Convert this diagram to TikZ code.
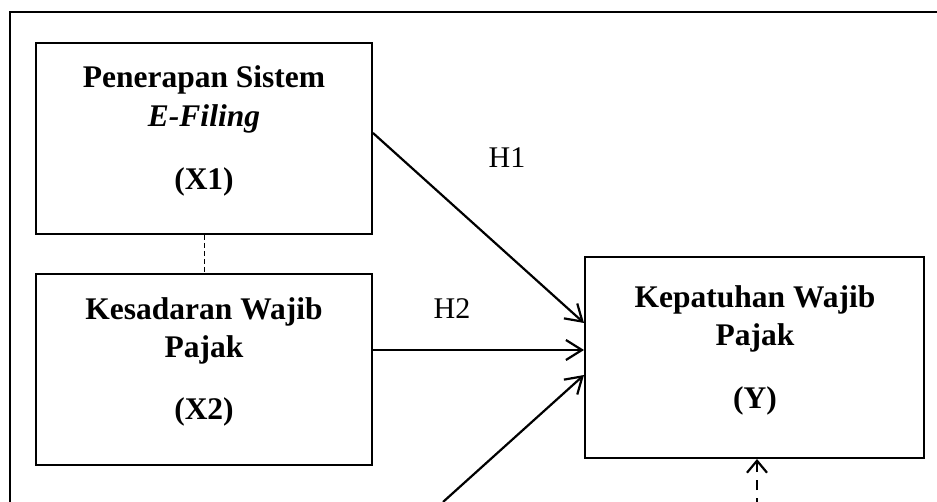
\documentclass[tikz,border=0pt]{standalone}
\usepackage{fontspec}
\setmainfont{Liberation Serif}
\usetikzlibrary{arrows.meta}
\begin{document}
\begin{tikzpicture}[x=1pt,y=-1pt,
  box/.style={draw,line width=2pt,inner sep=0pt,minimum width=336pt,minimum height=191pt},
  ybox/.style={draw,line width=2pt,inner sep=0pt,minimum width=339pt,minimum height=201pt},
  lbl/.style={anchor=base,inner sep=0pt,font=\fontsize{31.5}{36}\selectfont\bfseries},
  hl/.style={anchor=base,inner sep=0pt,font=\fontsize{30}{34}\selectfont},
  arr/.style={line width=2.2pt,-{Straight Barb[length=16pt,width=20pt,line width=2.2pt]}},
  frame/.style={line width=2.6pt,miter limit=10}]
\useasboundingbox (0,0) rectangle (937,502);
% outer frame
\coordinate (fb) at (10,502);
\coordinate (ftl) at (10,12);
\coordinate (fr) at (940,12);
\draw[frame] (fb) -- (ftl) -- (fr);
% boxes
\node[box] (x1) at (204,138.5) {};
\node[box] (x2) at (204,369.5) {};
\node[ybox] (y) at (754.5,357.5) {};
% texts
\node[lbl] (t11) at (204,88) {Penerapan Sistem};
\node[lbl] (t12) at (204,127) {\itshape E-Filing};
\node[lbl] (t13) at (204,190) {(X1)};
\node[lbl] (t21) at (204,320) {Kesadaran Wajib};
\node[lbl] (t22) at (204,358) {Pajak};
\node[lbl] (t23) at (204,420) {(X2)};
\node[lbl] (t31) at (755,308) {Kepatuhan Wajib};
\node[lbl] (t32) at (755,346) {Pajak};
\node[lbl] (t33) at (755,408) {(Y)};
\node[hl] (h1) at (507,168) {H1};
\node[hl] (h2) at (452,319) {H2};
% connectors
\draw[line width=0.8pt,dash pattern=on 5pt off 3pt] (x1.south) -- (x2.north);
\draw[arr] ([yshift=5.5pt]x1.east) -- ([yshift=34.5pt]y.west);
\draw[arr] ([yshift=19.5pt]x2.east) -- ([yshift=7.5pt]y.west);
\coordinate (x3) at (443,502);
\draw[arr] (x3) -- ([yshift=-17.5pt]y.west);
\coordinate (z) at (757,508);
\draw[line width=2.2pt,dash pattern=on 10pt off 8pt,-{Straight Barb[length=12pt,width=20pt,line width=2.2pt]}] (z) -- (y.south -| z);
\end{tikzpicture}
\end{document}
